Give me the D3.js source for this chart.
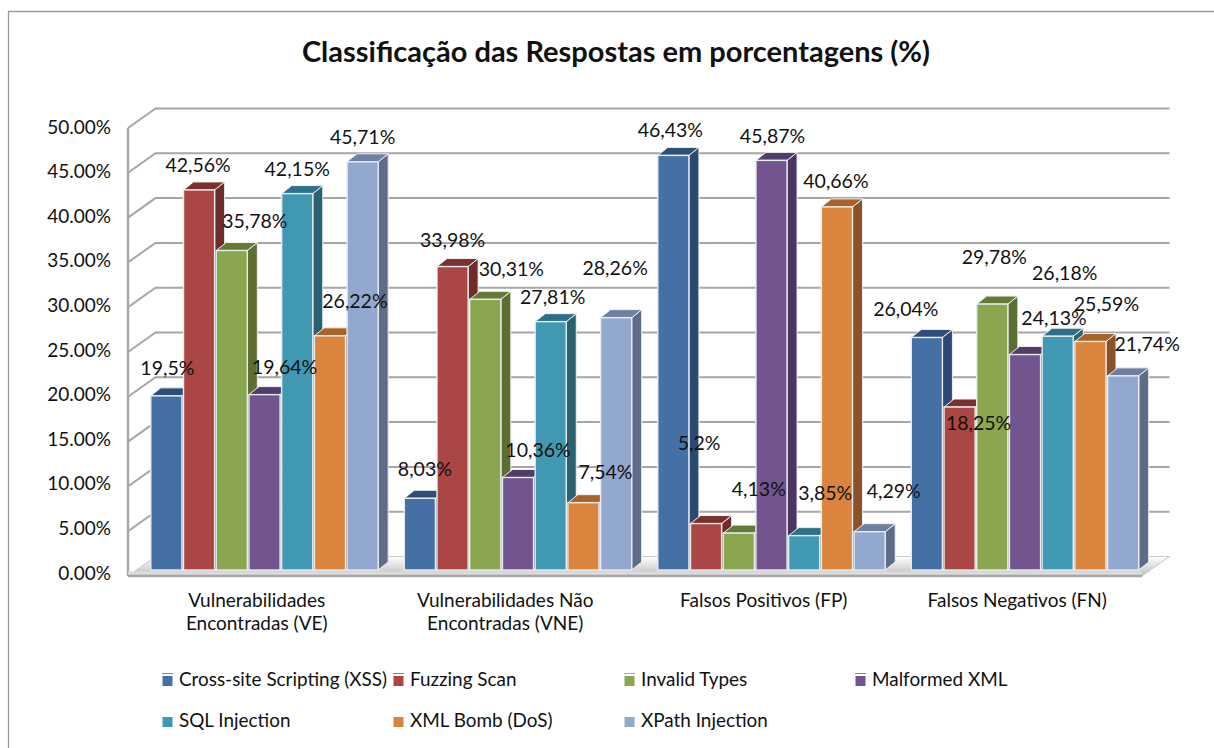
<!DOCTYPE html>
<html><head><meta charset="utf-8">
<script src="https://cdn.jsdelivr.net/npm/d3@7/dist/d3.min.js"></script>
<style>html,body{margin:0;padding:0;background:#fff}svg{display:block}text{font-family:Lato,"Open Sans",sans-serif;fill:#111}</style>
</head><body><svg id="c" width="1214" height="748"></svg>
<script>
const title = "Classificação das Respostas em porcentagens (%)";
const categories = [["Vulnerabilidades","Encontradas (VE)"],["Vulnerabilidades Não","Encontradas (VNE)"],["Falsos Positivos (FP)"],["Falsos Negativos (FN)"]];
const seriesNames = ["Cross-site Scripting (XSS)","Fuzzing Scan","Invalid Types","Malformed XML","SQL Injection","XML Bomb (DoS)","XPath Injection"];
const xss = [19.5,8.03,46.43,26.04];
const fuzzing = [42.56,33.98,5.2,18.25];
const invalid = [35.78,30.31,4.13,29.78];
const malformed = [19.64,10.36,45.87,24.13];
const sql = [42.15,27.81,3.85,26.18];
const bomb = [26.22,7.54,40.66,25.59];
const xpath = [45.71,28.26,4.29,21.74];
const seriesValues = [xss,fuzzing,invalid,malformed,sql,bomb,xpath];
const valueLabels = [
 ["19,5%","8,03%","46,43%","26,04%"],["42,56%","33,98%","5,2%","18,25%"],["35,78%","30,31%","4,13%","29,78%"],
 ["19,64%","10,36%","45,87%","24,13%"],["42,15%","27,81%","3,85%","26,18%"],["26,22%","7,54%","40,66%","25,59%"],["45,71%","28,26%","4,29%","21,74%"]];
const ticks = [0,5,10,15,20,25,30,35,40,45,50];
const colors = ["#4470a6","#aa4643","#8aa64e","#72558f","#4098b2","#db843d","#93a8cf"];
const topColors = ["#2f4f78","#7a302f","#647a37","#523c69","#2d7088","#a8622a","#6d7fa3"];
const sideColors = ["#2c4a70","#6e2c2a","#5c6e32","#4a3660","#2a6272","#8a5226","#5d6c88"];
// layout nudges for the data labels (centre relative to bar top centre)
const nudgesBySeries = [
 [[1,-27],[5,-29],[-3,-25],[-21,-28]],
 [[-1,-24],[0,-26],[-7,-80],[19,16]],
 [[23,-29],[26,-30],[20,-44],[2,-47]],
 [[20,-27],[20,-27],[1,-24],[29,-36]],
 [[0,-24],[2,-24],[21,-42],[7,-63]],
 [[25,-34],[22,-30],[-1,-25],[16,-37]],
 [[0,-24],[-1,-49],[24,-40],[24,-31]]
];
const svg = d3.select("#c");
const W0 = 128, W1 = 1142, dx = 27.5, dy = 19.5, bdx = 10, bdy = 8;
const yFront = d3.scaleLinear().domain([0,50]).range([576,128]);
const yBar = d3.scaleLinear().domain([0,50]).range([570,123.5]);
const yLabel = d3.scaleLinear().domain([0,50]).range([573,127]);
const x0 = d3.scaleBand().domain(d3.range(categories.length)).range([W0,W1]);
const x1 = d3.scaleBand().domain(d3.range(seriesNames.length)).range([22,251]);
const grey = "#a6a6a6";
// frame
svg.append("path").attr("d","M8.5,748V11.5H1214").attr("fill","none").attr("stroke","#9a9a9a").attr("stroke-width",1.3);
svg.append("text").attr("x",616).attr("y",62).attr("text-anchor","middle").attr("font-size",29).attr("font-weight",700).text(title);
// gradient
const defs = svg.append("defs");
const g = defs.append("linearGradient").attr("id","fl").attr("x1",0).attr("x2",0).attr("y1",0).attr("y2",1);
g.append("stop").attr("offset",0).attr("stop-color","#fff");g.append("stop").attr("offset",1).attr("stop-color","#bdbdbd");
// gridlines and side wall
svg.append("g").selectAll("path").data(ticks.filter(t=>t>0)).join("path")
 .attr("d",t=>`M${W0},${yFront(t)}L${W0+dx},${yFront(t)-dy}H${W1+dx}`)
 .attr("fill","none").attr("stroke",grey).attr("stroke-width",2);
svg.append("path").attr("d",`M${W0},${yFront(50)}V${yFront(0)}`).attr("stroke",grey).attr("stroke-width",2.4);
// floor
svg.append("path").attr("d",`M${W0},${yFront(0)}L${W0+dx},${yFront(0)-dy}H${W1+dx}L${W1},${yFront(0)}Z`).attr("fill","url(#fl)").attr("stroke","#c8c8c8");
svg.append("path").attr("d",`M${W0},${yFront(0)}H${W1}`).attr("stroke",grey).attr("stroke-width",2.6);
svg.append("path").attr("d",`M${W0},${yFront(0)-3}H${W1}`).attr("stroke","#dcdcdc").attr("stroke-width",3);
// y labels
svg.append("g").selectAll("text").data(ticks).join("text").attr("x",111).attr("y",t=>yLabel(t)+6.5)
 .attr("text-anchor","end").attr("font-size",19).text(t=>t.toFixed(2)+"%");
// bars
const bw = x1.bandwidth()-1.6;
seriesNames.forEach((n,s)=>{
  const gs = svg.append("g");
  const data = seriesValues[s].map((v,c)=>({v,c,x:x0(c)+x1(s)+0.8}));
  gs.selectAll(".s").data(data).join("path")
   .attr("d",d=>`M${d.x+bw},${yBar(d.v)}l${bdx},${-bdy}V${yBar(0)-bdy}l${-bdx},${bdy}Z`)
   .attr("fill",sideColors[s]).attr("stroke","#eef0f2").attr("stroke-width",1);
  gs.selectAll(".t").data(data).join("path")
   .attr("d",d=>`M${d.x},${yBar(d.v)}l${bdx},${-bdy}h${bw}l${-bdx},${bdy}Z`)
   .attr("fill",topColors[s]).attr("stroke","#eef0f2").attr("stroke-width",1);
  gs.selectAll(".f").data(data).join("rect")
   .attr("x",d=>d.x).attr("y",d=>yBar(d.v)).attr("width",bw).attr("height",d=>yBar(0)-yBar(d.v))
   .attr("fill",colors[s]).attr("stroke","#e9ecef").attr("stroke-width",1.4);
});
// value labels
seriesNames.forEach((n,s)=>{
  svg.append("g").selectAll("text").data(seriesValues[s]).join("text")
   .attr("x",(v,c)=>x0(c)+x1(s)+x1.bandwidth()/2+nudgesBySeries[s][c][0])
   .attr("y",(v,c)=>yBar(v)+nudgesBySeries[s][c][1]+6.5)
   .attr("text-anchor","middle").attr("font-size",19.5).text((v,c)=>valueLabels[s][c]);
});
// category labels
const catG = svg.append("g");
categories.forEach((lines,c)=>lines.forEach((l,i)=>{
  catG.append("text").attr("x",x0(c)+x0.bandwidth()/2+(c===1?-3:2)).attr("y",607+i*23).attr("text-anchor","middle").attr("font-size",19).text(l);
}));
// legend
const legendX = d3.scalePoint().domain([0,1,2,3]).range([162,855]);
const legendY = d3.scalePoint().domain([0,1]).range([680,721]);
seriesNames.forEach((n,i)=>{
  const col = i<4?i:i-4, row = i<4?0:1;
  const lx = legendX(col), ly = legendY(row);
  if(row===0) svg.append("rect").attr("x",lx).attr("y",ly-7).attr("width",11).attr("height",1).attr("fill",colors[i]).attr("opacity",.8);
  svg.append("rect").attr("x",lx+.5).attr("y",ly-4).attr("width",10).attr("height",10).attr("fill",colors[i]);
  svg.append("text").attr("x",lx+17).attr("y",ly+6).attr("font-size",18.9).text(n);
});
</script></body></html>
